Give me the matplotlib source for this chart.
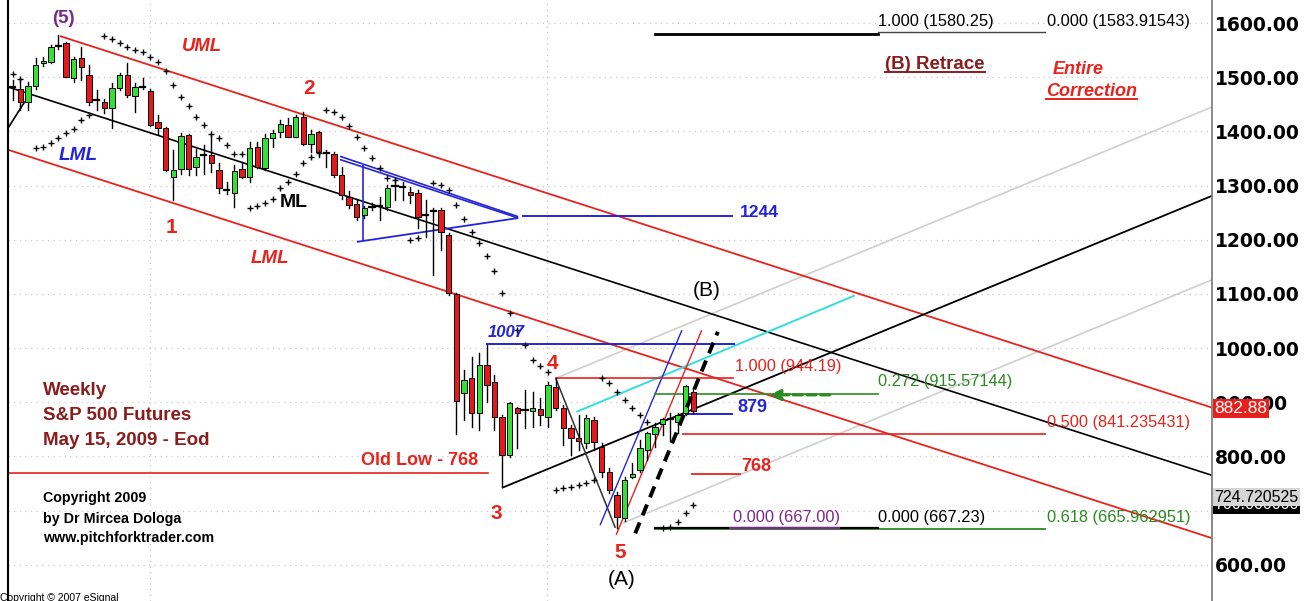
import matplotlib
matplotlib.use("Agg")
import matplotlib.pyplot as plt
from matplotlib.patches import Rectangle
from matplotlib.transforms import blended_transform_factory

# weekly S&P 500 futures candles (bar index = week)
opens = [1482, 1477.5, 1454.8, 1483.7, 1526, 1528.6, 1560, 1562.5, 1497.8, 1534.8,
         1504, 1455, 1454.8, 1442.5, 1479.4, 1504, 1466, 1481, 1475, 1418,
         1405.5, 1316, 1330, 1393, 1335, 1356, 1356, 1328.6, 1290, 1285.5,
         1330, 1316, 1371.7, 1331.7, 1388, 1399, 1411.7, 1390, 1426, 1376.6,
         1399, 1359, 1358, 1319.4, 1279, 1266, 1246, 1259, 1261, 1261,
         1298, 1297, 1288.6, 1285.5, 1245, 1252, 1254.8, 1208.7, 1099, 916.3,
         944, 879.4, 968.6, 937.8, 873.2, 802, 888.6, 885.5, 884, 886.7,
         873.2, 928.6, 888.6, 851.7, 833, 824, 867, 818, 771.8, 728.7,
         685.6, 762.5, 774.8, 811.7, 841, 859.8, 866, 864, 879.5, 919.4]
highs = [1495, 1497.8, 1491.7, 1534.8, 1538, 1559.4, 1578, 1565.5, 1537.8, 1555,
         1522.5, 1476, 1459, 1488.6, 1508.3, 1525.5, 1488.6, 1498, 1477.5, 1430,
         1408.6, 1365.5, 1397, 1396, 1368, 1375, 1396, 1341, 1307, 1338,
         1344, 1381, 1381, 1396, 1402, 1421, 1424, 1430, 1436.3, 1402,
         1401, 1365.5, 1362.5, 1335, 1289, 1273, 1262, 1267, 1279.4, 1301,
         1313, 1307, 1298, 1292, 1273, 1258, 1258, 1212, 1101, 959.4,
         984, 990, 1005.5, 950, 876, 901, 891.7, 922.5, 919, 907,
         937.8, 944, 894.8, 857.8, 876, 876, 873, 824, 778, 734.8,
         762.5, 787, 830, 845.6, 861, 870, 879.4, 879.4, 931.8, 923.8]
lows = [1458, 1439.4, 1439.4, 1479, 1520, 1526.8, 1552, 1500, 1491.7, 1494.8,
        1448.6, 1439, 1433, 1405.5, 1476, 1464, 1436.3, 1479, 1410, 1396,
        1327, 1273.2, 1322, 1319, 1319, 1322, 1325, 1285.5, 1285, 1261,
        1313, 1307, 1331.7, 1328.6, 1372, 1390, 1389, 1389, 1375, 1362.5,
        1353, 1335, 1316, 1276, 1258, 1236, 1240, 1255, 1236.4, 1254.8,
        1273, 1273, 1267, 1221, 1205.6, 1134.8, 1181, 1098, 842, 867,
        854.8, 848.6, 900.9, 848.6, 744, 799, 814.8, 851.7, 854.8, 857.8,
        854.8, 885.5, 820.9, 802.5, 812, 815, 811.8, 762.5, 731.8, 667,
        680, 759.4, 771.8, 793.3, 818, 839.5, 829, 842.5, 876.4, 879.4]
closes = [1482.5, 1454.8, 1483.7, 1522.5, 1530, 1556.3, 1558, 1501, 1532.9, 1519.4,
          1454.8, 1457, 1442.5, 1479.4, 1504, 1467, 1481, 1482, 1411.7, 1405.5,
          1328.6, 1328.6, 1392, 1330, 1353, 1357, 1341, 1295, 1291, 1327,
          1316, 1368.6, 1334.8, 1388.3, 1397, 1413.5, 1390, 1427, 1376.6, 1396,
          1362.5, 1360, 1319.4, 1282.5, 1264, 1242.5, 1259, 1260, 1262, 1294.8,
          1299, 1296.5, 1282.5, 1242.5, 1246, 1253, 1214.8, 1100.9, 903, 940.9,
          879.4, 968.6, 931.7, 873.2, 802.5, 897.9, 879.4, 886, 888.6, 876.3,
          931.7, 888.6, 851.7, 833.2, 828, 870, 827, 771.8, 738, 688.7,
          756, 767.5, 814.8, 842.5, 854.8, 868.4, 868.4, 876.9, 929.9, 882.88]

# parabolic SAR dots
sar_bars = [0, 1, 3, 4, 5, 6, 7, 8, 9, 10,
            12, 13, 14, 15, 16, 17, 18, 19, 20, 21, 22, 23, 24, 25, 26, 27, 28, 29, 30,
            31, 32, 33, 34, 35, 36, 37, 38, 39, 40,
            41, 42, 43, 44, 45, 46, 47, 48, 49, 50, 52, 53,
            55, 56, 57, 58, 59, 60, 61, 62, 63, 64, 65, 66, 67, 68, 69, 70,
            71, 72, 73, 74, 75, 76, 77, 78, 79, 80, 81, 82, 83,
            85, 86, 87, 88, 89]
sar_vals = [1506, 1496, 1368.6, 1371.7, 1377.8, 1387, 1396.3, 1403.7, 1420.9, 1431,
            1576.6, 1570, 1562.5, 1556, 1550, 1547, 1538, 1528.6, 1511.4, 1485.5, 1464, 1446,
            1427, 1411.7, 1396, 1387, 1375, 1358, 1358,
            1258, 1262, 1267, 1276, 1294.8, 1307, 1322, 1341, 1353, 1359.5,
            1439.4, 1435, 1427, 1410.5, 1390, 1369, 1350, 1331.7, 1313.3, 1311, 1199.4, 1202.5,
            1304, 1301, 1292, 1264, 1239, 1215, 1193, 1170, 1143, 1101, 1065, 1033, 1005.6,
            978, 966, 955,
            738, 741, 744, 747, 750, 756, 944, 934.8, 919.4, 904, 888.7, 876.4, 864,
            667.2, 670, 679.4, 695, 710.3]

# pitchfork and drawing-tool lines: (bar, price) end points
uml = [(6.18, 1576), (156.8, 890)]
ml = [(-0.6, 1482), (156.8, 765)]
lml = [(-0.6, 1366), (156.8, 649)]
handle = [(-0.6, 1406), (1.6, 1455)]
tri_upper_a = [(42.8, 1354), (66.1, 1242.5)]
tri_upper_b = [(42.8, 1348), (66.1, 1240)]
tri_lower = [(45.0, 1196), (66.1, 1240)]
tri_vert = [(45.8, 1338), (45.8, 1199)]
wave_4_5 = [(71, 944), (78.8, 668)]
from_3 = [(64, 742), (156.8, 1281)]
grey_1 = [(71, 944), (156.8, 1445)]
grey_2 = [(79.8, 677), (156.8, 1126)]
cyan_line = [(73.7, 882), (110.1, 1097)]
blue_steep = [(76.8, 673), (87.5, 1033)]
red_steep = [(78.9, 655), (90.1, 1033)]
dash_steep = [(81.4, 658), (92.2, 1030)]

# horizontal levels: price, start bar, end bar
old_low = (768.7, -0.6, 62.1)
lvl_1244 = (1244, 66.7, 94.0)
lvl_1007 = (1007, 62.0, 94.3)
lvl_879 = (879, 88.1, 94.0)
lvl_768 = (768, 88.8, 95.1)
fib_944 = (944.19, 71.1, 94.2)
fib_841 = (841.24, 87.6, 135.0)
fib_915 = (915.57, 84.0, 113.1)
fib_666 = (665.96, 84.0, 135.0)
fib_667b = (667.23, 84.0, 113.1)
fib_667p = (667.00, 93.8, 108.0)
fib_1580 = (1580.25, 84.0, 113.1)
fib_1584 = (1583.9, 113.1, 135.0)

RED = '#e8221c'
GREEN = '#2c8a22'
BLUE = '#2424dc'
PURPLE = '#7a2a8c'
DARKRED = '#8b1c1c'
ANN = 'Liberation Sans'

fig = plt.figure(figsize=(13.13, 6.01), dpi=100)
ax = fig.add_axes([8 / 1313, 0, 1204 / 1313, 1])
ax.set_xlim(-0.6, 156.8)
ax.set_ylim(533, 1642.5)

# dotted grid
for v in range(600, 1700, 100):
    ax.axhline(v, color='#c8c8c8', lw=0.9, ls=(0, (1, 3.5)), zorder=0)
for b in [17.9, 69.8]:
    ax.axvline(b, color='#c8c8c8', lw=0.9, ls=(0, (1, 3.5)), zorder=0)


def seg(pts, color, lw=1.2, ls='-', z=2):
    ax.plot([pts[0][0], pts[1][0]], [pts[0][1], pts[1][1]], color=color, lw=lw, ls=ls,
            zorder=z, solid_capstyle='butt')


def level(lv, color, lw=1.2, z=2):
    ax.plot([lv[1], lv[2]], [lv[0], lv[0]], color=color, lw=lw, zorder=z)


seg(grey_1, '#cfcfcf', 1.2, z=1)
seg(grey_2, '#cfcfcf', 1.2, z=1)
seg(uml, RED, 1.3)
seg(lml, RED, 1.3)
seg(ml, 'black', 1.2)
seg(handle, 'black', 1.2)
seg(from_3, 'black', 1.3)
seg(wave_4_5, '#333333', 1.1)
seg(tri_upper_a, BLUE, 1.2)
seg(tri_upper_b, BLUE, 1.2)
seg(tri_lower, BLUE, 1.3)
seg(tri_vert, BLUE, 1.2)
seg(cyan_line, '#33dede', 1.4)
seg(blue_steep, BLUE, 1.0)
seg(red_steep, RED, 1.0)
seg(dash_steep, 'black', 2.8, ls=(0, (3, 2)), z=5)

level(old_low, RED)
level(lvl_1244, BLUE, 1.4)
level(lvl_1007, BLUE, 1.4)
level(lvl_879, BLUE, 1.4)
level(lvl_768, RED, 1.3)
level(fib_944, RED)
level(fib_841, RED)
level(fib_915, GREEN)
level(fib_666, GREEN, 1.3)
level(fib_667b, 'black', 1.6)
level(fib_667p, PURPLE, 1.6)
level(fib_1580, 'black', 2.0)
level(fib_1584, '#444444', 1.0)
ax.annotate('', xy=(98.6, 913.5), xytext=(107.2, 913.5),
            arrowprops=dict(arrowstyle='-|>', color=GREEN, lw=2.2, ls=(0, (3, 1.5)),
                            mutation_scale=16), zorder=6)

# candles
w = 0.7
for i, (o, h, l, c) in enumerate(zip(opens, highs, lows, closes)):
    ax.plot([i, i], [l, h], color='black', lw=1.0, zorder=3)
    if abs(c - o) < 2.5:
        ax.plot([i - w / 2, i + w / 2], [c, c], color='black', lw=1.6, zorder=4)
        continue
    col = '#33e033' if c > o else '#e3191c'
    ax.add_patch(Rectangle((i - w / 2, min(o, c)), w, abs(c - o), facecolor=col,
                           edgecolor='black', lw=0.7, zorder=4))

ax.plot(sar_bars, sar_vals, ls='none', marker='+', ms=4.5, mew=1.0, color='black', zorder=5)


def label(x, y, s, color, size, weight='bold', style='normal', ha='center', family=ANN):
    return ax.text(x, y, s, color=color, fontsize=size, fontweight=weight, fontstyle=style,
                   ha=ha, va='center', family=family, zorder=7)


label(6.6, 1609, '(5)', PURPLE, 13.5)
label(24.7, 1556, 'UML', RED, 13.3, style='italic')
label(8.6, 1356, 'LML', BLUE, 13.7, style='italic')
label(38.7, 1480, '2', RED, 15)
label(36.8, 1268, 'ML', 'black', 14)
label(20.8, 1223, '1', RED, 15)
label(33.6, 1166, 'LML', RED, 13.5, style='italic')
label(95.1, 1251, '1244', BLUE, 12.6, ha='left')
label(90.8, 1107, '(B)', 'black', 15, weight='normal')
label(64.5, 1028, '1007', BLUE, 12, style='italic')
label(70.6, 972, '4', RED, 15)
label(94.4, 965, '1.000 (944.19)', RED, 11.8, weight='normal', ha='left')
label(113.2, 939, '0.272 (915.57144)', GREEN, 11.8, weight='normal', ha='left')
label(94.8, 891, '879', BLUE, 13, ha='left')
label(135.2, 863, '0.500 (841.235431)', RED, 11.8, weight='normal', ha='left')
label(60.8, 793, 'Old Low - 768', RED, 13, ha='right')
label(95.3, 782, '768', RED, 13, ha='left')
label(63.3, 694, '3', RED, 15)
label(94.2, 688, '0.000 (667.00)', PURPLE, 11.8, weight='normal', ha='left')
label(113.1, 688, '0.000 (667.23)', 'black', 11.8, weight='normal', ha='left')
label(135.2, 688, '0.618 (665.962951)', GREEN, 11.8, weight='normal', ha='left')
label(79.5, 623, '5', RED, 15)
label(79.6, 572, '(A)', 'black', 15, weight='normal')
label(113.1, 1602, '1.000 (1580.25)', 'black', 11.8, weight='normal', ha='left')
label(135.2, 1602, '0.000 (1583.91543)', 'black', 11.8, weight='normal', ha='left')
t_ret = label(120.6, 1524, '(B) Retrace', DARKRED, 13.5)
label(139.3, 1515, 'Entire', RED, 13, style='italic')
t_cor = label(141.1, 1473, 'Correction', RED, 13, style='italic')

for yv, s in zip([922, 876, 830], ['Weekly', 'S&P 500 Futures', 'May 15, 2009 - Eod']):
    label(4.0, yv, s, DARKRED, 13.5, ha='left')
for yv, s in zip([723, 684, 649], ['Copyright 2009', 'by Dr Mircea Dologa', 'www.pitchforktrader.com']):
    label(4.0, yv, s, 'black', 10.3, ha='left')
fig.text(0.0, -0.004, 'Copyright \u00a9 2007 eSignal', fontsize=7.5, family=ANN, va='bottom')

# price scale on the right
ticks = [600, 800, 900, 1000, 1100, 1200, 1300, 1400, 1500, 1600]
ax.yaxis.tick_right()
ax.set_yticks(ticks)
ax.set_yticklabels([f'{t:.2f}' for t in ticks], fontsize=13.5, fontweight='bold', family='DejaVu Sans')
ax.tick_params(axis='y', length=0, pad=2)
ax.set_xticks([])
for s in ['top', 'bottom']:
    ax.spines[s].set_visible(False)
ax.spines['left'].set_linewidth(1.5)
ax.spines['right'].set_color('#777777')
ax.spines['right'].set_linewidth(1.2)

tr = blended_transform_factory(ax.transAxes, ax.transData)
ax.text(1.002, 711, '700.000000', transform=tr, color='white', fontsize=11.5, family=ANN,
        va='center', ha='left', clip_on=False, zorder=8,
        bbox=dict(facecolor='black', edgecolor='none', pad=1.2))
ax.text(1.002, 724.72, '724.720525', transform=tr, color='black', fontsize=11.5, family=ANN,
        va='center', ha='left', clip_on=False, zorder=9,
        bbox=dict(facecolor='#d6d6d6', edgecolor='none', pad=1.2))
ax.text(1.002, 888, '882.88', transform=tr, color='white', fontsize=12.5, family=ANN,
        va='center', ha='left', clip_on=False, zorder=9,
        bbox=dict(facecolor='#e8201c', edgecolor='none', pad=1.2))

# underline a couple of headings
fig.canvas.draw()
rend = fig.canvas.get_renderer()
inv = ax.transData.inverted()
for t, col in [(t_ret, DARKRED), (t_cor, RED)]:
    bb = t.get_window_extent(rend)
    (x0, y0), (x1, _) = inv.transform([(bb.x0, bb.y0 + 1), (bb.x1, bb.y0 + 1)])
    ax.plot([x0, x1], [y0, y0], color=col, lw=1.4, zorder=7)

fig.savefig('out.png', dpi=100)
